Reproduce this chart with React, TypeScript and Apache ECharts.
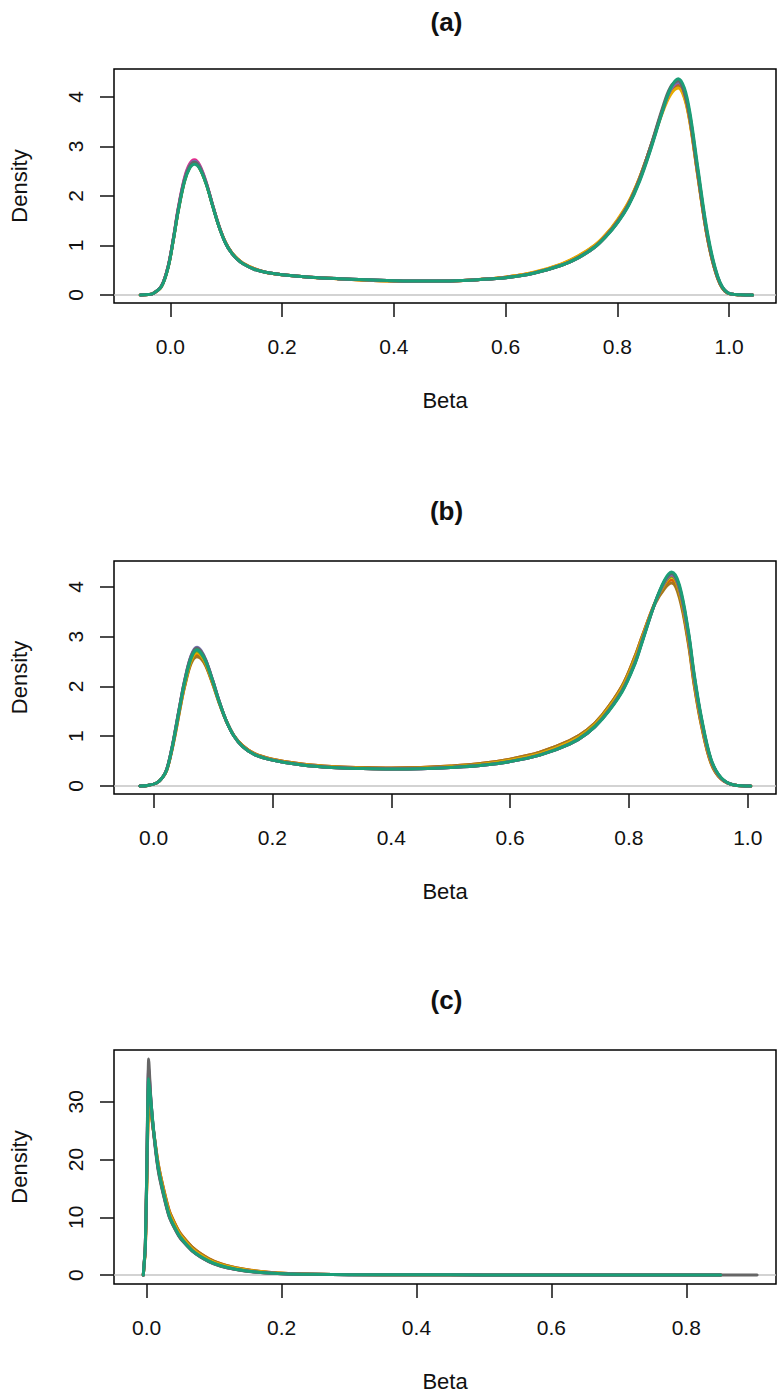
import React, { useEffect, useRef } from "react";
import * as echarts from "echarts";

// ---------- text ----------
const PANEL_TITLES = ["(a)", "(b)", "(c)"];
const X_TITLE = "Beta";
const Y_TITLE = "Density";

// ---------- series (R "Dark2" palette) ----------
const SERIES_NAMES = ["orange", "brown", "yellow", "green", "magenta", "purple", "gray", "teal"];
const SERIES_COLORS = ["#D95F02", "#A6761D", "#E6AB02", "#66A61E", "#E7298A", "#7570B3", "#666666", "#1B9E77"];

// ---------- tick labels ----------
const xTicksA = [0, 0.2, 0.4, 0.6, 0.8, 1.0];
const yTicksA = [0, 1, 2, 3, 4];
const xTicksB = [0, 0.2, 0.4, 0.6, 0.8, 1.0];
const yTicksB = [0, 1, 2, 3, 4];
const xTicksC = [0, 0.2, 0.4, 0.6, 0.8];
const yTicksC = [0, 10, 20, 30];

// ---------- panel (a) ----------
const betaA = [-0.054, -0.04, -0.031, -0.016, -0.004, 0.005, 0.014, 0.025, 0.034, 0.043, 0.052, 0.064, 0.076, 0.087, 0.099, 0.11, 0.12, 0.13, 0.15, 0.17, 0.2, 0.25, 0.3, 0.35, 0.4, 0.45, 0.5, 0.55, 0.6, 0.65, 0.7, 0.73, 0.76, 0.78, 0.8, 0.82, 0.84, 0.86, 0.88, 0.895, 0.909, 0.92, 0.93, 0.944, 0.962, 0.98, 0.997, 1.02, 1.042];
const a_orange = [0, 0.01, 0.03, 0.17, 0.57, 1.1, 1.71, 2.3, 2.57, 2.66, 2.57, 2.25, 1.79, 1.39, 1.05, 0.85, 0.73, 0.64, 0.53, 0.46, 0.41, 0.36, 0.33, 0.3, 0.28, 0.27, 0.28, 0.31, 0.36, 0.45, 0.62, 0.78, 1.0, 1.22, 1.5, 1.86, 2.37, 3.01, 3.69, 4.08, 4.22, 4.01, 3.5, 2.42, 1.11, 0.33, 0.04, 0.004, 0];
const a_brown = [0, 0.01, 0.03, 0.17, 0.57, 1.1, 1.71, 2.3, 2.57, 2.66, 2.57, 2.25, 1.79, 1.39, 1.05, 0.85, 0.73, 0.64, 0.53, 0.46, 0.41, 0.36, 0.33, 0.3, 0.28, 0.27, 0.28, 0.31, 0.36, 0.45, 0.62, 0.78, 1.0, 1.22, 1.5, 1.86, 2.37, 3.01, 3.7, 4.1, 4.24, 4.03, 3.52, 2.43, 1.12, 0.33, 0.04, 0.004, 0];
const a_yellow = [0, 0.01, 0.03, 0.17, 0.57, 1.1, 1.71, 2.3, 2.57, 2.66, 2.57, 2.25, 1.79, 1.39, 1.05, 0.85, 0.73, 0.64, 0.53, 0.46, 0.41, 0.36, 0.33, 0.3, 0.28, 0.27, 0.28, 0.31, 0.36, 0.46, 0.63, 0.79, 1.01, 1.23, 1.52, 1.88, 2.38, 3.0, 3.66, 4.04, 4.18, 3.98, 3.48, 2.4, 1.1, 0.32, 0.04, 0.004, 0];
const a_green = [0, 0.01, 0.03, 0.18, 0.57, 1.11, 1.72, 2.31, 2.58, 2.67, 2.58, 2.25, 1.79, 1.38, 1.04, 0.84, 0.72, 0.63, 0.52, 0.46, 0.41, 0.36, 0.33, 0.31, 0.29, 0.28, 0.285, 0.31, 0.35, 0.44, 0.6, 0.75, 0.97, 1.19, 1.46, 1.82, 2.33, 2.98, 3.7, 4.14, 4.3, 4.12, 3.62, 2.52, 1.17, 0.35, 0.05, 0.005, 0];
const a_magenta = [0, 0.01, 0.03, 0.18, 0.59, 1.13, 1.76, 2.36, 2.64, 2.73, 2.63, 2.28, 1.8, 1.39, 1.04, 0.84, 0.72, 0.63, 0.52, 0.46, 0.41, 0.36, 0.33, 0.31, 0.29, 0.28, 0.285, 0.31, 0.35, 0.44, 0.6, 0.75, 0.97, 1.19, 1.46, 1.82, 2.33, 2.98, 3.7, 4.14, 4.29, 4.1, 3.6, 2.5, 1.16, 0.35, 0.05, 0.005, 0];
const a_purple = [0, 0.01, 0.03, 0.18, 0.58, 1.12, 1.74, 2.34, 2.61, 2.7, 2.61, 2.27, 1.8, 1.39, 1.04, 0.84, 0.72, 0.63, 0.52, 0.46, 0.41, 0.36, 0.33, 0.31, 0.29, 0.28, 0.285, 0.31, 0.35, 0.44, 0.6, 0.75, 0.97, 1.19, 1.46, 1.82, 2.33, 2.98, 3.7, 4.14, 4.3, 4.1, 3.6, 2.5, 1.16, 0.35, 0.05, 0.005, 0];
const a_gray = [0, 0.01, 0.03, 0.18, 0.58, 1.12, 1.73, 2.32, 2.59, 2.68, 2.59, 2.26, 1.79, 1.38, 1.04, 0.84, 0.72, 0.63, 0.52, 0.46, 0.41, 0.36, 0.33, 0.31, 0.29, 0.28, 0.285, 0.31, 0.35, 0.44, 0.6, 0.76, 0.98, 1.2, 1.48, 1.84, 2.36, 3.02, 3.75, 4.2, 4.33, 4.08, 3.55, 2.45, 1.12, 0.33, 0.04, 0.004, 0];
const a_teal = [0, 0.01, 0.03, 0.17, 0.56, 1.09, 1.69, 2.28, 2.55, 2.64, 2.56, 2.24, 1.78, 1.38, 1.04, 0.84, 0.72, 0.63, 0.52, 0.46, 0.41, 0.36, 0.33, 0.31, 0.29, 0.28, 0.285, 0.31, 0.35, 0.44, 0.6, 0.75, 0.97, 1.18, 1.45, 1.8, 2.3, 2.95, 3.68, 4.17, 4.37, 4.18, 3.68, 2.58, 1.22, 0.37, 0.05, 0.005, 0];
const densA = [a_orange, a_brown, a_yellow, a_green, a_magenta, a_purple, a_gray, a_teal];

// ---------- panel (b) ----------
const betaB = [-0.023, -0.01, 0.005, 0.015, 0.022, 0.03, 0.038, 0.045, 0.052, 0.063, 0.073, 0.08, 0.088, 0.0995, 0.11, 0.122, 0.135, 0.15, 0.17, 0.2, 0.25, 0.3, 0.35, 0.4, 0.45, 0.5, 0.55, 0.6, 0.65, 0.7, 0.73, 0.755, 0.788, 0.81, 0.822, 0.843, 0.86, 0.872, 0.885, 0.9, 0.91, 0.922, 0.938, 0.955, 0.977, 1.005];
const b_orange = [0, 0.01, 0.06, 0.17, 0.31, 0.68, 1.15, 1.6, 2.0, 2.49, 2.64, 2.59, 2.43, 2.06, 1.69, 1.32, 1.02, 0.81, 0.65, 0.54, 0.44, 0.39, 0.37, 0.36, 0.37, 0.4, 0.45, 0.54, 0.68, 0.91, 1.13, 1.43, 2.0, 2.6, 3.0, 3.66, 4.02, 4.14, 3.84, 2.9, 2.04, 1.23, 0.47, 0.14, 0.02, 0];
const b_brown = [0, 0.01, 0.06, 0.17, 0.31, 0.67, 1.13, 1.58, 1.98, 2.46, 2.6, 2.56, 2.41, 2.05, 1.68, 1.31, 1.02, 0.81, 0.65, 0.54, 0.44, 0.39, 0.37, 0.36, 0.37, 0.4, 0.45, 0.54, 0.68, 0.91, 1.13, 1.43, 2.0, 2.6, 3.0, 3.64, 3.97, 4.08, 3.78, 2.86, 2.01, 1.21, 0.46, 0.14, 0.02, 0];
const b_yellow = [0, 0.01, 0.06, 0.17, 0.32, 0.69, 1.17, 1.62, 2.03, 2.52, 2.68, 2.62, 2.46, 2.08, 1.7, 1.32, 1.01, 0.8, 0.64, 0.53, 0.43, 0.38, 0.355, 0.345, 0.355, 0.385, 0.43, 0.52, 0.65, 0.88, 1.1, 1.4, 1.96, 2.55, 2.96, 3.66, 4.06, 4.2, 3.9, 2.97, 2.1, 1.28, 0.5, 0.15, 0.02, 0];
const b_green = [0, 0.01, 0.06, 0.17, 0.32, 0.7, 1.19, 1.65, 2.07, 2.56, 2.72, 2.65, 2.49, 2.1, 1.7, 1.32, 1.01, 0.79, 0.63, 0.52, 0.42, 0.37, 0.35, 0.34, 0.35, 0.375, 0.42, 0.5, 0.63, 0.85, 1.08, 1.37, 1.92, 2.5, 2.92, 3.65, 4.08, 4.22, 3.94, 3.02, 2.15, 1.32, 0.52, 0.16, 0.02, 0];
const b_magenta = [0, 0.01, 0.06, 0.17, 0.33, 0.71, 1.21, 1.67, 2.1, 2.6, 2.76, 2.69, 2.52, 2.12, 1.72, 1.32, 1.01, 0.79, 0.63, 0.52, 0.42, 0.37, 0.35, 0.34, 0.345, 0.37, 0.41, 0.49, 0.62, 0.84, 1.06, 1.35, 1.9, 2.47, 2.9, 3.65, 4.1, 4.24, 3.97, 3.05, 2.18, 1.34, 0.53, 0.16, 0.02, 0];
const b_purple = [0, 0.01, 0.06, 0.17, 0.33, 0.72, 1.22, 1.68, 2.11, 2.62, 2.79, 2.72, 2.53, 2.13, 1.72, 1.32, 1.01, 0.79, 0.63, 0.52, 0.42, 0.37, 0.35, 0.34, 0.345, 0.37, 0.41, 0.49, 0.62, 0.84, 1.06, 1.35, 1.9, 2.47, 2.9, 3.65, 4.1, 4.25, 3.98, 3.06, 2.18, 1.34, 0.53, 0.16, 0.02, 0];
const b_gray = [0, 0.01, 0.06, 0.17, 0.33, 0.71, 1.21, 1.67, 2.1, 2.6, 2.77, 2.7, 2.52, 2.12, 1.72, 1.32, 1.01, 0.79, 0.63, 0.52, 0.42, 0.37, 0.35, 0.34, 0.345, 0.37, 0.41, 0.49, 0.62, 0.84, 1.06, 1.35, 1.9, 2.47, 2.9, 3.66, 4.12, 4.27, 4.0, 3.08, 2.2, 1.35, 0.53, 0.16, 0.02, 0];
const b_teal = [0, 0.01, 0.06, 0.17, 0.32, 0.7, 1.19, 1.65, 2.07, 2.57, 2.74, 2.67, 2.5, 2.11, 1.71, 1.32, 1.01, 0.79, 0.63, 0.52, 0.42, 0.37, 0.35, 0.34, 0.345, 0.37, 0.41, 0.49, 0.62, 0.84, 1.06, 1.34, 1.88, 2.45, 2.88, 3.65, 4.14, 4.3, 4.04, 3.12, 2.24, 1.38, 0.55, 0.17, 0.02, 0];
const densB = [b_orange, b_brown, b_yellow, b_green, b_magenta, b_purple, b_gray, b_teal];

// ---------- panel (c) ----------
const betaC = [-0.005, -0.002, 0, 0.003, 0.006, 0.01, 0.017, 0.025, 0.034, 0.049, 0.069, 0.092, 0.11, 0.132, 0.155, 0.18, 0.21, 0.25, 0.3, 0.4, 0.5, 0.6, 0.7, 0.8, 0.851, 0.905];
const c_orange = [0, 4.5, 14.8, 29.5, 28.6, 25.2, 19.4, 15.0, 11.0, 7.4, 4.7, 2.85, 1.95, 1.28, 0.82, 0.49, 0.27, 0.15, 0.08, 0.04, 0.03, 0.02, 0.015, 0.01, 0, null];
const c_brown = [0, 4.4, 14.6, 29.0, 28.3, 25.0, 19.3, 14.9, 10.9, 7.3, 4.65, 2.8, 1.92, 1.26, 0.8, 0.48, 0.26, 0.15, 0.08, 0.04, 0.03, 0.02, 0.015, 0.01, 0, null];
const c_yellow = [0, 4.6, 15.3, 30.5, 29.0, 25.0, 19.0, 14.6, 10.6, 7.1, 4.4, 2.65, 1.8, 1.18, 0.75, 0.45, 0.25, 0.14, 0.08, 0.04, 0.03, 0.02, 0.015, 0.01, 0, null];
const c_green = [0, 4.8, 16.0, 33.0, 30.0, 25.2, 18.7, 14.2, 10.2, 6.75, 4.15, 2.45, 1.62, 1.02, 0.63, 0.37, 0.21, 0.12, 0.07, 0.04, 0.03, 0.02, 0.015, 0.01, 0, null];
const c_magenta = [0, 5.0, 16.8, 35.5, 30.6, 25.2, 18.5, 14.0, 10.0, 6.6, 4.05, 2.35, 1.55, 0.98, 0.6, 0.35, 0.2, 0.12, 0.07, 0.04, 0.03, 0.02, 0.015, 0.01, 0, null];
const c_purple = [0, 5.0, 17.0, 36.0, 30.8, 25.3, 18.5, 14.0, 10.0, 6.6, 4.05, 2.35, 1.55, 0.98, 0.6, 0.35, 0.2, 0.12, 0.07, 0.04, 0.03, 0.02, 0.015, 0.01, 0, null];
const c_gray = [0, 5.0, 17.0, 37.4, 31.0, 25.0, 18.2, 13.8, 9.9, 6.5, 4.0, 2.3, 1.5, 0.95, 0.58, 0.34, 0.19, 0.11, 0.07, 0.04, 0.03, 0.02, 0.015, 0.01, 0.01, 0];
const c_teal = [0, 5.0, 16.5, 34.0, 30.5, 25.5, 18.7, 14.2, 10.1, 6.7, 4.1, 2.4, 1.6, 1.0, 0.62, 0.36, 0.2, 0.12, 0.07, 0.04, 0.03, 0.02, 0.015, 0.01, 0, null];
const densC = [c_orange, c_brown, c_yellow, c_green, c_magenta, c_purple, c_gray, c_teal];

// ---------- layout (pixels / axis extents) ----------
const FONT = "'Liberation Sans', Arial, Helvetica, sans-serif";
const W = 780;
const H = 1393;
const PLOT_LEFT = 107;
const PLOT_RIGHT = 4;

const panels = [
  { beta: betaA, dens: densA, xTicks: xTicksA, yTicks: yTicksA, top: 69, height: 234, titleY: 18, xMin: -0.101, xMax: 1.084, yMin: -0.162, yMax: 4.566, smooth: 0.35 },
  { beta: betaB, dens: densB, xTicks: xTicksB, yTicks: yTicksB, top: 561, height: 233, titleY: 507, xMin: -0.0666, xMax: 1.0475, yMin: -0.161, yMax: 4.523, smooth: 0.35 },
  { beta: betaC, dens: densC, xTicks: xTicksC, yTicks: yTicksC, top: 1050, height: 235, titleY: 996, xMin: -0.0484, xMax: 0.933, yMin: -1.55, yMax: 38.97, smooth: 0.2 },
];

function buildOption() {
  const grid: any[] = [];
  const xAxis: any[] = [];
  const yAxis: any[] = [];
  const title: any[] = [];
  const series: any[] = [];

  panels.forEach((p, i) => {
    grid.push({
      left: PLOT_LEFT,
      right: PLOT_RIGHT,
      top: p.top,
      height: p.height,
      show: true,
      borderColor: "#000",
      borderWidth: 1.5,
      backgroundColor: "transparent",
    });
    title.push({
      text: PANEL_TITLES[i],
      left: (PLOT_LEFT + (W - PLOT_RIGHT)) / 2,
      textAlign: "center",
      top: p.titleY - 14,
      textStyle: { fontFamily: FONT, fontSize: 26, fontWeight: "bold", color: "#111" },
    });
    xAxis.push({
      type: "value",
      gridIndex: i,
      min: p.xMin,
      max: p.xMax,
      name: X_TITLE,
      nameLocation: "middle",
      nameGap: 86,
      nameTextStyle: { fontFamily: FONT, fontSize: 22, color: "#111" },
      axisLine: { show: false, onZero: false },
      splitLine: { show: false },
      axisTick: { show: true, length: 14, inside: false, customValues: p.xTicks, lineStyle: { color: "#111", width: 1.5 } },
      axisLabel: {
        customValues: p.xTicks,
        formatter: (v: number) => v.toFixed(1),
        margin: 33,
        fontFamily: FONT,
        fontSize: 21,
        color: "#111",
      },
    });
    yAxis.push({
      type: "value",
      gridIndex: i,
      min: p.yMin,
      max: p.yMax,
      name: Y_TITLE,
      nameLocation: "middle",
      nameGap: 84,
      nameTextStyle: { fontFamily: FONT, fontSize: 22, color: "#111" },
      axisLine: { show: false, onZero: false },
      splitLine: { show: false },
      axisTick: { show: true, length: 14, inside: false, customValues: p.yTicks, lineStyle: { color: "#111", width: 1.5 } },
      axisLabel: {
        customValues: p.yTicks,
        formatter: (v: number) => String(Math.round(v)),
        rotate: 90,
        margin: 28,
        fontFamily: FONT,
        fontSize: 21,
        color: "#111",
      },
    });

    p.dens.forEach((ys, k) => {
      const s: any = {
        type: "line",
        name: SERIES_NAMES[k],
        xAxisIndex: i,
        yAxisIndex: i,
        data: p.beta.map((x, j) => [x, ys[j]]),
        showSymbol: false,
        symbol: "none",
        smooth: p.smooth,
        connectNulls: false,
        lineStyle: { color: SERIES_COLORS[k], width: 3, cap: "round", join: "round" },
        itemStyle: { color: SERIES_COLORS[k] },
        z: 3 + k,
        silent: true,
      };
      if (k === 0) {
        s.markLine = {
          silent: true,
          symbol: ["none", "none"],
          label: { show: false },
          lineStyle: { color: "#c4c4c4", width: 1.5, type: "solid" },
          data: [{ yAxis: 0 }],
          z: 1,
        };
      }
      series.push(s);
    });
  });

  return {
    animation: false,
    backgroundColor: "#ffffff",
    title,
    grid,
    xAxis,
    yAxis,
    series,
  };
}

export default function App() {
  const ref = useRef<HTMLDivElement>(null);
  useEffect(() => {
    document.body.style.margin = "0";
    if (!ref.current) return;
    const chart = echarts.init(ref.current, null, { renderer: "svg" });
    chart.setOption(buildOption() as any);
    return () => chart.dispose();
  }, []);
  return <div ref={ref} style={{ position: "absolute", left: 0, top: 0, width: W, height: H }} />;
}
